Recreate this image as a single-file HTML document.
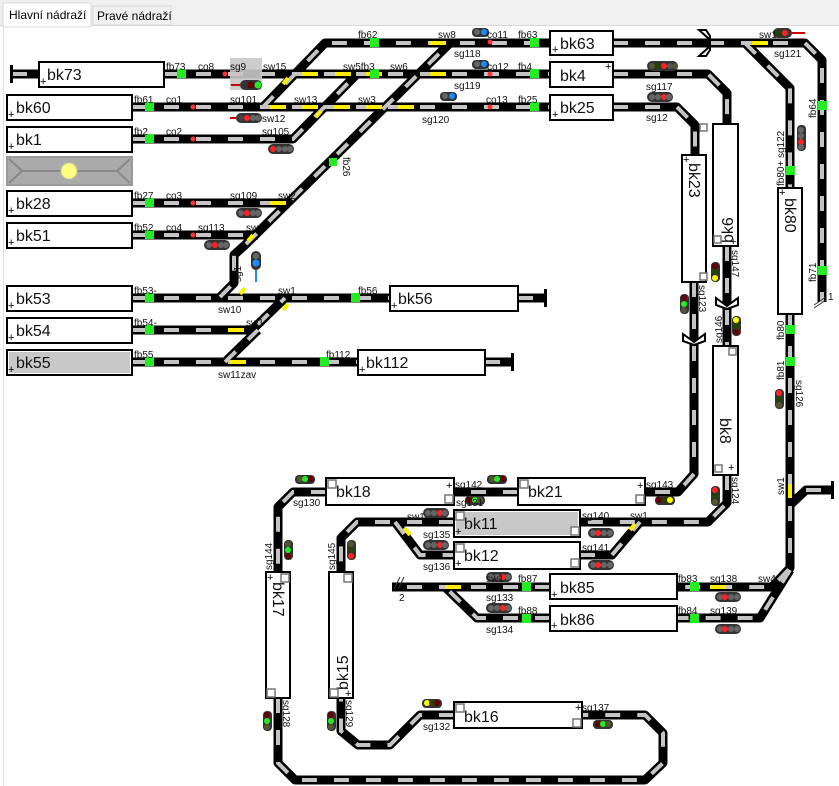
<!DOCTYPE html>
<html><head><meta charset="utf-8"><style>
html,body{margin:0;padding:0;width:839px;height:786px;overflow:hidden;background:#fff}
svg{display:block}
text{font-family:"Liberation Sans",sans-serif}
.t{fill:none;stroke:#000;stroke-width:9;stroke-linejoin:round}
.d{fill:none;stroke:#c4c4c4;stroke-width:4;stroke-dasharray:15 17}
.l{font-size:10px;fill:#111}
.b{fill:#fff;stroke:#000;stroke-width:2}
.bt{font-size:16px;fill:#111}
.p{font-size:11px}
</style></head><body>
<svg width="839" height="786" viewBox="0 0 839 786">
<rect x="0" y="0" width="839" height="26" fill="#f0f0f0"/>
<line x1="0" y1="25.5" x2="839" y2="25.5" stroke="#d8d8d8"/>
<rect x="3" y="3" width="88" height="24" fill="#fff" stroke="#d8d8d8"/>
<rect x="3" y="26" width="1" height="760" fill="#e0e0e0"/>
<text x="9" y="19" font-size="12">Hlavní nádraží</text>
<rect x="93" y="6" width="78" height="19" fill="#f0f0f0" stroke="#d8d8d8"/>
<text x="97" y="20" font-size="12">Pravé nádraží</text>

<g id="tracks">
<path d="M12,74 H40 M164,74 H550 M613,74 H708 L727,93 V124" class="t"/>
<path d="M263,107 L325,43 H550 M613,43 H805 L822,60 V302" class="t"/>
<path d="M745,43 L790,88 V188" class="t"/>
<path d="M132,107 H550 M613,107 H677 L695,125 V155" class="t"/>
<path d="M132,139 H293 L357,74" class="t"/>
<path d="M132,203 H290" class="t"/>
<path d="M132,235 H258" class="t"/>
<path d="M220,297 L234,283 V255 L245,245 L450,43" class="t"/>
<path d="M132,298 H390 M518,298 H545" class="t"/>
<path d="M132,330 H252 L285,298" class="t"/>
<path d="M132,362 H358 M485,362 H512" class="t"/>
<path d="M225,362 L258,330" class="t"/>
<path d="M694,282 V474 L678,492 H645 M518,492 H454 M326,492 H293 L278,507 V572" class="t"/>
<path d="M727,246 V346 M727,475 V503 L708,522 H580 M454,522 H357 L341,538 V572" class="t"/>
<path d="M395,522 L420,555 H454 M580,555 H612 L640,522" class="t"/>
<path d="M790,314 V568 L772,587 H677 M550,587 H392" class="t"/>
<path d="M790,570 L760,618 H677 M550,618 H477 L445,587" class="t"/>
<path d="M790,505 L806,490 H832" class="t"/>
<path d="M278,698 V763 L295,780 H645 L663,763 V733 L645,715 H582 M454,715 H420 L390,745 H358 L341,731 V698" class="t"/>
</g>
<g>
<path d="M12,74 H40 M164,74 H550 M613,74 H708 L727,93 V124" class="d"/>
<path d="M263,107 L325,43 H550 M613,43 H805 L822,60 V302" class="d"/>
<path d="M745,43 L790,88 V188" class="d"/>
<path d="M132,107 H550 M613,107 H677 L695,125 V155" class="d"/>
<path d="M132,139 H293 L357,74" class="d"/>
<path d="M132,203 H290" class="d"/>
<path d="M132,235 H258" class="d"/>
<path d="M220,297 L234,283 V255 L245,245 L450,43" class="d"/>
<path d="M132,298 H390 M518,298 H545" class="d"/>
<path d="M132,330 H252 L285,298" class="d"/>
<path d="M132,362 H358 M485,362 H512" class="d"/>
<path d="M225,362 L258,330" class="d"/>
<path d="M694,282 V474 L678,492 H645 M518,492 H454 M326,492 H293 L278,507 V572" class="d"/>
<path d="M727,246 V346 M727,475 V503 L708,522 H580 M454,522 H357 L341,538 V572" class="d"/>
<path d="M395,522 L420,555 H454 M580,555 H612 L640,522" class="d"/>
<path d="M790,314 V568 L772,587 H677 M550,587 H392" class="d"/>
<path d="M790,570 L760,618 H677 M550,618 H477 L445,587" class="d"/>
<path d="M806,490 H832" class="d"/>
<path d="M278,698 V763 L295,780 H645 L663,763 V733 L645,715 H582 M454,715 H420 L390,745 H358 L341,731 V698" class="d"/>
</g>
<g stroke="#ffee00" stroke-width="4">
<path d="M302,74h16 M335,74h16 M366,74h16 M430,74h16 M270,107h16 M302,107h16 M334,107h16 M366,107h16 M398,107h16 M430,43h16 M752,43h16 M270,203h16 M228,330h16 M230,362h16 M445,587h16 M710,587h16"/>
<path d="M283,84 l5,-6 M316,117 l5,-6 M240,294 l5,-6 M283,310 l5,-6 M790,484 v14 M404,528 l6,7 M630,530 l5,-6 M248,241 l5,-6"/>
</g>
<g fill="#000"><rect x="10" y="65" width="3" height="18"/><rect x="544" y="289" width="3" height="18"/><rect x="511" y="353" width="3" height="18"/><rect x="831" y="481" width="3" height="18"/></g>
<g fill="#fff" stroke="#000" stroke-width="2">
<path d="M699,30 L708,38 V48 L699,56 H706 L710,50 V36 L706,30 Z"/>
<path d="M716,298 L727,306 L738,298 L738,305 L727,309 L716,305 Z"/>
<path d="M683,334 L694,342 L705,334 L705,341 L694,345 L683,341 Z"/>
</g>
<g>
<rect x="39" y="62" width="125" height="25" class="b"/><text x="47" y="80" class="bt">bk73</text>
<rect x="7" y="95" width="125" height="25" class="b"/><text x="16" y="113" class="bt">bk60</text>
<rect x="7" y="127" width="125" height="25" class="b"/><text x="16" y="145" class="bt">bk1</text>
<rect x="7" y="157" width="125" height="28" fill="#aaa" stroke="#999" stroke-width="2"/>
<path d="M9,159 L22,171 L9,183 M130,159 L117,171 L130,183 M22,171 H117" stroke="#888" stroke-width="2" fill="none"/>
<circle cx="69" cy="171" r="8" fill="#ffff80" stroke="#cc9" />
<rect x="7" y="191" width="125" height="25" class="b"/><text x="16" y="209" class="bt">bk28</text>
<rect x="7" y="223" width="125" height="25" class="b"/><text x="16" y="241" class="bt">bk51</text>
<rect x="7" y="286" width="125" height="25" class="b"/><text x="16" y="304" class="bt">bk53</text>
<rect x="7" y="318" width="125" height="25" class="b"/><text x="16" y="336" class="bt">bk54</text>
<rect x="7" y="350" width="125" height="25" class="b"/><rect x="9" y="352" width="121" height="21" fill="#c8c8c8"/><text x="16" y="368" class="bt">bk55</text>
<rect x="390" y="286" width="128" height="25" class="b"/><text x="398" y="304" class="bt">bk56</text>
<rect x="358" y="350" width="127" height="25" class="b"/><text x="366" y="368" class="bt">bk112</text>
<rect x="550" y="31" width="63" height="24" class="b"/><text x="560" y="49" class="bt">bk63</text>
<rect x="550" y="62" width="63" height="25" class="b"/><text x="560" y="81" class="bt">bk4</text>
<rect x="550" y="95" width="63" height="25" class="b"/><text x="560" y="113" class="bt">bk25</text>
<rect x="682" y="155" width="24" height="127" class="b"/><text transform="translate(689,163) rotate(90)" class="bt">bk23</text>
<rect x="713" y="124" width="25" height="122" class="b"/><text transform="translate(733,243) rotate(-90)" class="bt">bk6</text>
<rect x="713" y="346" width="25" height="129" class="b"/><text transform="translate(720,418) rotate(90)" class="bt">bk8</text>
<rect x="778" y="188" width="24" height="126" class="b"/><text transform="translate(785,198) rotate(90)" class="bt">bk80</text>
<rect x="326" y="478" width="128" height="27" class="b"/><text x="336" y="497" class="bt">bk18</text>
<rect x="518" y="478" width="127" height="27" class="b"/><text x="528" y="497" class="bt">bk21</text>
<rect x="454" y="510" width="126" height="27" class="b"/><rect x="456" y="512" width="122" height="23" fill="#c8c8c8"/><text x="464" y="529" class="bt">bk11</text>
<rect x="454" y="542" width="126" height="27" class="b"/><text x="464" y="561" class="bt">bk12</text>
<rect x="550" y="574" width="127" height="25" class="b"/><text x="560" y="593" class="bt">bk85</text>
<rect x="550" y="606" width="127" height="25" class="b"/><text x="560" y="625" class="bt">bk86</text>
<rect x="266" y="572" width="24" height="126" class="b"/><text transform="translate(273,582) rotate(90)" class="bt">bk17</text>
<rect x="329" y="572" width="24" height="126" class="b"/><text transform="translate(348,690) rotate(-90)" class="bt">bk15</text>
<rect x="454" y="702" width="128" height="26" class="b"/><text x="464" y="722" class="bt">bk16</text>
</g>
<g fill="#fff" stroke="#777" stroke-width="1.5">
<rect x="700" y="124" width="7" height="7"/><rect x="700" y="273" width="7" height="7"/><rect x="714" y="236" width="7" height="7"/><rect x="729" y="348" width="7" height="7"/><rect x="715" y="465" width="7" height="7"/>
<rect x="328" y="480" width="8" height="8"/><rect x="445" y="495" width="8" height="8"/><rect x="520" y="480" width="8" height="8"/><rect x="636" y="495" width="8" height="8"/>
<rect x="456" y="512" width="8" height="8"/><rect x="571" y="527" width="8" height="8"/><rect x="456" y="544" width="8" height="8"/><rect x="571" y="559" width="8" height="8"/>
<rect x="281" y="574" width="8" height="8"/><rect x="267" y="689" width="8" height="8"/><rect x="344" y="574" width="8" height="8"/><rect x="330" y="689" width="8" height="8"/>
<rect x="456" y="704" width="8" height="8"/><rect x="573" y="719" width="8" height="8"/>
</g>
<g class="p">
<text x="40" y="85">+</text><text x="8" y="118">+</text><text x="8" y="150">+</text><text x="8" y="214">+</text><text x="8" y="246">+</text><text x="8" y="309">+</text><text x="8" y="341">+</text><text x="8" y="373">+</text>
<text x="391" y="309">+</text><text x="359" y="373">+</text><text x="552" y="53">+</text><text x="605" y="70">+</text><text x="552" y="118">+</text>
<text x="683" y="163">+</text><text x="730" y="245">+</text><text x="728" y="471">+</text><text x="779" y="196">+</text>
<text x="446" y="489">+</text><text x="637" y="489">+</text><text x="455" y="535">+</text><text x="455" y="567">+</text><text x="551" y="598">+</text><text x="551" y="629">+</text>
<text x="267" y="581">+</text><text x="345" y="697">+</text><text x="575" y="711">+</text>
</g>
<g fill="#22ee22">
<rect x="177" y="69" width="9" height="9"/><rect x="145" y="102" width="9" height="9"/><rect x="145" y="134" width="9" height="9"/><rect x="145" y="198" width="9" height="9"/><rect x="145" y="230" width="9" height="9"/>
<rect x="145" y="293" width="9" height="9"/><rect x="145" y="325" width="9" height="9"/><rect x="145" y="357" width="9" height="9"/><rect x="351" y="293" width="9" height="9"/><rect x="320" y="357" width="9" height="9"/>
<rect x="370" y="38" width="9" height="9"/><rect x="370" y="69" width="9" height="9"/><rect x="530" y="38" width="9" height="9"/><rect x="530" y="69" width="9" height="9"/><rect x="530" y="102" width="9" height="9"/>
<rect x="329" y="158" width="8" height="8"/><rect x="818" y="101" width="9" height="9"/><rect x="818" y="266" width="9" height="9"/><rect x="786" y="166" width="9" height="9"/><rect x="786" y="325" width="9" height="9"/><rect x="786" y="357" width="9" height="9"/>
<rect x="522" y="582" width="9" height="9"/><rect x="522" y="614" width="9" height="9"/><rect x="690" y="582" width="9" height="9"/><rect x="690" y="614" width="9" height="9"/>
</g>
<g fill="#ff3333"><circle cx="225" cy="74" r="2.5"/><circle cx="193" cy="107" r="2.5"/><circle cx="193" cy="139" r="2.5"/><circle cx="193" cy="203" r="2.5"/><circle cx="193" cy="235" r="2.5"/><circle cx="490" cy="42" r="2.5"/><circle cx="490" cy="74" r="2.5"/><circle cx="490" cy="107" r="2.5"/></g>
<rect x="230" y="58" width="32" height="32" fill="#c8c8c8" opacity="0.9"/>
<g>
<rect x="240" y="80" width="22" height="10" rx="5" fill="#333"/><circle cx="251" cy="85" r="3.5" fill="#600"/><circle cx="258" cy="85" r="3.5" fill="#2e2"/><line x1="231" y1="85" x2="240" y2="85" stroke="#c00" stroke-width="2"/>
<rect x="236" y="113" width="26" height="10" rx="5" fill="#333"/><circle cx="241" cy="118" r="3" fill="#444"/><circle cx="247" cy="118" r="3" fill="#f22"/><circle cx="253" cy="118" r="3" fill="#666"/><circle cx="258" cy="118" r="3" fill="#666"/><line x1="230" y1="118" x2="236" y2="118" stroke="#c00" stroke-width="2"/>
<rect x="268" y="144" width="26" height="10" rx="5" fill="#333"/><circle cx="273" cy="149" r="3" fill="#f22"/><circle cx="279" cy="149" r="3" fill="#666"/><circle cx="285" cy="149" r="3" fill="#666"/><circle cx="290" cy="149" r="3" fill="#666"/>
<rect x="236" y="208" width="26" height="10" rx="5" fill="#333"/><circle cx="241" cy="213" r="3" fill="#666"/><circle cx="247" cy="213" r="3" fill="#f22"/><circle cx="253" cy="213" r="3" fill="#666"/><circle cx="258" cy="213" r="3" fill="#666"/>
<rect x="204" y="240" width="26" height="10" rx="5" fill="#333"/><circle cx="209" cy="245" r="3" fill="#666"/><circle cx="215" cy="245" r="3" fill="#f22"/><circle cx="221" cy="245" r="3" fill="#666"/><circle cx="226" cy="245" r="3" fill="#666"/>
<rect x="251" y="251" width="10" height="19" rx="5" fill="#333"/><circle cx="256" cy="256" r="3" fill="#666"/><circle cx="256" cy="263" r="3.5" fill="#1a8cff"/><line x1="256" y1="270" x2="256" y2="282" stroke="#1a8cff" stroke-width="2"/>
<rect x="472" y="28" width="17" height="9" rx="4" fill="#333"/><circle cx="477" cy="32" r="3" fill="#666"/><circle cx="484" cy="32" r="3" fill="#1a8cff"/>
<rect x="472" y="60" width="17" height="9" rx="4" fill="#333"/><circle cx="477" cy="64" r="3" fill="#666"/><circle cx="484" cy="64" r="3" fill="#1a8cff"/>
<rect x="440" y="92" width="17" height="9" rx="4" fill="#333"/><circle cx="445" cy="96" r="3" fill="#666"/><circle cx="452" cy="96" r="3" fill="#1a8cff"/>
<rect x="647" y="61" width="31" height="10" rx="5" fill="#333"/><circle cx="652" cy="66" r="3" fill="#553"/><circle cx="658" cy="66" r="3" fill="#240"/><circle cx="664" cy="66" r="3" fill="#f22"/><circle cx="670" cy="66" r="3" fill="#555"/><circle cx="675" cy="66" r="3" fill="#553"/>
<rect x="647" y="92" width="26" height="10" rx="5" fill="#333"/><circle cx="652" cy="97" r="3" fill="#666"/><circle cx="658" cy="97" r="3" fill="#666"/><circle cx="664" cy="97" r="3" fill="#f22"/><circle cx="669" cy="97" r="3" fill="#666"/>
<rect x="773" y="28" width="19" height="10" rx="5" fill="#333"/><circle cx="778" cy="33" r="3" fill="#240"/><circle cx="785" cy="33" r="3" fill="#f22"/><line x1="792" y1="33" x2="805" y2="33" stroke="#c00" stroke-width="2"/>
<rect x="797" y="125" width="9" height="26" rx="4" fill="#333"/><circle cx="801" cy="130" r="3" fill="#666"/><circle cx="801" cy="136" r="3" fill="#666"/><circle cx="801" cy="142" r="3" fill="#f22"/><circle cx="801" cy="147" r="3" fill="#666"/>
<rect x="680" y="294" width="9" height="20" rx="4" fill="#333"/><circle cx="684" cy="298" r="3" fill="#600"/><circle cx="684" cy="304" r="3" fill="#2e2"/><circle cx="684" cy="310" r="3" fill="#553"/>
<rect x="711" y="262" width="9" height="20" rx="4" fill="#333"/><circle cx="715" cy="266" r="3" fill="#600"/><circle cx="715" cy="272" r="3" fill="#240"/><circle cx="715" cy="278" r="3" fill="#ff0"/>
<rect x="732" y="316" width="9" height="20" rx="4" fill="#333"/><circle cx="736" cy="320" r="3" fill="#ff0"/><circle cx="736" cy="326" r="3" fill="#240"/><circle cx="736" cy="332" r="3" fill="#600"/>
<rect x="711" y="486" width="9" height="20" rx="4" fill="#333"/><circle cx="715" cy="490" r="3" fill="#f22"/><circle cx="715" cy="496" r="3" fill="#240"/><circle cx="715" cy="502" r="3" fill="#553"/>
<rect x="775" y="389" width="9" height="20" rx="4" fill="#333"/><circle cx="779" cy="393" r="3" fill="#f22"/><circle cx="779" cy="399" r="3" fill="#240"/><circle cx="779" cy="405" r="3" fill="#553"/>
<rect x="295" y="475" width="20" height="9" rx="4" fill="#333"/><circle cx="300" cy="479" r="3" fill="#553"/><circle cx="305" cy="479" r="3" fill="#2e2"/><circle cx="311" cy="479" r="3" fill="#600"/>
<rect x="487" y="475" width="20" height="9" rx="4" fill="#333"/><circle cx="492" cy="479" r="3" fill="#553"/><circle cx="497" cy="479" r="3" fill="#2e2"/><circle cx="503" cy="479" r="3" fill="#600"/>
<rect x="465" y="496" width="20" height="9" rx="4" fill="#333"/><circle cx="469" cy="500" r="3" fill="#600"/><circle cx="475" cy="500" r="3" fill="#2e2"/><circle cx="480" cy="500" r="3" fill="#553"/>
<rect x="655" y="496" width="20" height="9" rx="4" fill="#333"/><circle cx="659" cy="500" r="3" fill="#600"/><circle cx="665" cy="500" r="3" fill="#240"/><circle cx="670" cy="500" r="3" fill="#ff0"/>
<rect x="423" y="508" width="26" height="10" rx="5" fill="#333"/><circle cx="428" cy="513" r="3" fill="#666"/><circle cx="434" cy="513" r="3" fill="#666"/><circle cx="440" cy="513" r="3" fill="#f22"/><circle cx="445" cy="513" r="3" fill="#666"/>
<rect x="423" y="540" width="26" height="10" rx="5" fill="#333"/><circle cx="428" cy="545" r="3" fill="#666"/><circle cx="434" cy="545" r="3" fill="#666"/><circle cx="440" cy="545" r="3" fill="#f22"/><circle cx="445" cy="545" r="3" fill="#666"/>
<rect x="588" y="528" width="26" height="10" rx="5" fill="#333"/><circle cx="593" cy="533" r="3" fill="#666"/><circle cx="598" cy="533" r="3" fill="#f22"/><circle cx="604" cy="533" r="3" fill="#666"/><circle cx="610" cy="533" r="3" fill="#666"/>
<rect x="588" y="560" width="26" height="10" rx="5" fill="#333"/><circle cx="593" cy="565" r="3" fill="#666"/><circle cx="598" cy="565" r="3" fill="#f22"/><circle cx="604" cy="565" r="3" fill="#666"/><circle cx="610" cy="565" r="3" fill="#666"/>
<rect x="486" y="572" width="26" height="10" rx="5" fill="#333"/><circle cx="491" cy="577" r="3" fill="#666"/><circle cx="497" cy="577" r="3" fill="#666"/><circle cx="503" cy="577" r="3" fill="#f22"/><circle cx="508" cy="577" r="3" fill="#666"/>
<rect x="486" y="603" width="26" height="10" rx="5" fill="#333"/><circle cx="491" cy="608" r="3" fill="#666"/><circle cx="497" cy="608" r="3" fill="#666"/><circle cx="503" cy="608" r="3" fill="#f22"/><circle cx="508" cy="608" r="3" fill="#666"/>
<rect x="715" y="592" width="26" height="10" rx="5" fill="#333"/><circle cx="720" cy="597" r="3" fill="#666"/><circle cx="725" cy="597" r="3" fill="#f22"/><circle cx="731" cy="597" r="3" fill="#666"/><circle cx="737" cy="597" r="3" fill="#666"/>
<rect x="715" y="624" width="26" height="10" rx="5" fill="#333"/><circle cx="720" cy="629" r="3" fill="#666"/><circle cx="725" cy="629" r="3" fill="#f22"/><circle cx="731" cy="629" r="3" fill="#666"/><circle cx="737" cy="629" r="3" fill="#666"/>
<rect x="284" y="540" width="9" height="20" rx="4" fill="#333"/><circle cx="288" cy="544" r="3" fill="#553"/><circle cx="288" cy="550" r="3" fill="#2e2"/><circle cx="288" cy="556" r="3" fill="#600"/>
<rect x="347" y="540" width="9" height="20" rx="4" fill="#333"/><circle cx="351" cy="544" r="3" fill="#553"/><circle cx="351" cy="550" r="3" fill="#240"/><circle cx="351" cy="556" r="3" fill="#f22"/>
<rect x="263" y="711" width="9" height="20" rx="4" fill="#333"/><circle cx="267" cy="715" r="3" fill="#600"/><circle cx="267" cy="721" r="3" fill="#2e2"/><circle cx="267" cy="727" r="3" fill="#553"/>
<rect x="327" y="711" width="9" height="20" rx="4" fill="#333"/><circle cx="331" cy="715" r="3" fill="#600"/><circle cx="331" cy="721" r="3" fill="#2e2"/><circle cx="331" cy="727" r="3" fill="#553"/>
<rect x="422" y="699" width="20" height="9" rx="4" fill="#333"/><circle cx="427" cy="703" r="3" fill="#ff0"/><circle cx="432" cy="703" r="3" fill="#240"/><circle cx="437" cy="703" r="3" fill="#600"/>
<rect x="593" y="720" width="20" height="9" rx="4" fill="#333"/><circle cx="598" cy="724" r="3" fill="#600"/><circle cx="603" cy="724" r="3" fill="#2e2"/><circle cx="608" cy="724" r="3" fill="#553"/>
</g>
<g class="l">
<text x="166" y="70">fb73</text><text x="198" y="70">co8</text><text x="230" y="70">sg9</text><text x="263" y="70">sw15</text>
<text x="134" y="103">fb61</text><text x="166" y="103">co1</text><text x="230" y="103">sg101</text><text x="262" y="122">sw12</text><text x="294" y="103">sw13</text><text x="358" y="103">sw3</text><text x="486" y="103">co13</text><text x="518" y="103">fb25</text>
<text x="134" y="135">fb2</text><text x="166" y="135">co2</text><text x="262" y="135">sg105</text><text x="422" y="123">sg120</text>
<text x="358" y="38">fb62</text><text x="438" y="38">sw8</text><text x="487" y="38">co11</text><text x="518" y="38">fb63</text><text x="454" y="57">sg118</text>
<text x="343" y="70">sw5fb3</text><text x="390" y="70">sw6</text><text x="487" y="70">co12</text><text x="518" y="70">fb4</text><text x="454" y="89">sg119</text>
<text x="646" y="90">sg117</text><text x="646" y="121">sg12</text><text x="759" y="38">sw1</text><text x="774" y="57">sg121</text>
<text x="134" y="199">fb27</text><text x="166" y="199">co3</text><text x="230" y="199">sg109</text><text x="278" y="199">sw2</text>
<text x="134" y="231">fb52</text><text x="166" y="231">co4</text><text x="198" y="231">sg113</text><text x="246" y="231">sw1</text>
<text x="134" y="294">fb53-</text><text x="278" y="294">sw1</text><text x="358" y="294">fb56</text><text x="218" y="313">sw10</text>
<text x="134" y="326">fb54-</text><text x="246" y="326">sw1</text>
<text x="134" y="358">fb55</text><text x="326" y="358">fb112</text><text x="218" y="378">sw11zav</text>
<text x="293" y="506">sg130</text><text x="455" y="488">sg142</text><text x="456" y="506">sg131</text><text x="646" y="488">sg143</text>
<text x="407" y="520">sw1</text><text x="582" y="519">sg140</text><text x="630" y="519">sw1</text><text x="423" y="538">sg135</text><text x="423" y="570">sg136</text><text x="582" y="551">sg141</text>
<text x="486" y="582">sw1</text><text x="518" y="582">fb87</text><text x="486" y="601">sg133</text><text x="518" y="614">fb88</text><text x="486" y="633">sg134</text><text x="399" y="601">2</text>
<text x="678" y="582">fb83</text><text x="710" y="582">sg138</text><text x="758" y="582">sw4</text><text x="678" y="614">fb84</text><text x="710" y="614">sg139</text>
<text x="423" y="730">sg132</text><text x="582" y="711">sg137</text>
<text x="828" y="300">1</text>
</g>
<g class="l">
<text transform="translate(343,157) rotate(90)">fb26</text>
<text transform="translate(241,282) rotate(-90)">sg1</text>
<text transform="translate(816,118) rotate(-90)">fb64</text>
<text transform="translate(784,158) rotate(-90)">sg122</text>
<text transform="translate(784,186) rotate(-90)">fb80+</text>
<text transform="translate(816,282) rotate(-90)">fb71</text>
<text transform="translate(784,340) rotate(-90)">fb80</text>
<text transform="translate(784,380) rotate(-90)">fb81</text>
<text transform="translate(796,380) rotate(90)">sg126</text>
<text transform="translate(784,495) rotate(-90)">sw1</text>
<text transform="translate(699,285) rotate(90)">sg123</text>
<text transform="translate(732,250) rotate(90)">sg147</text>
<text transform="translate(722,343) rotate(-90)">sg146</text>
<text transform="translate(732,477) rotate(90)">sg124</text>
<text transform="translate(272,570) rotate(-90)">sg144</text>
<text transform="translate(335,570) rotate(-90)">sg145</text>
<text transform="translate(283,700) rotate(90)">sg128</text>
<text transform="translate(346,700) rotate(90)">sg129</text>
</g>
<g stroke="#333" stroke-width="1"><path d="M394,589 l6,-12 M398,589 l6,-12 M814,305 l12,-8 M814,308 l12,-8"/></g>
</svg>
</body></html>
